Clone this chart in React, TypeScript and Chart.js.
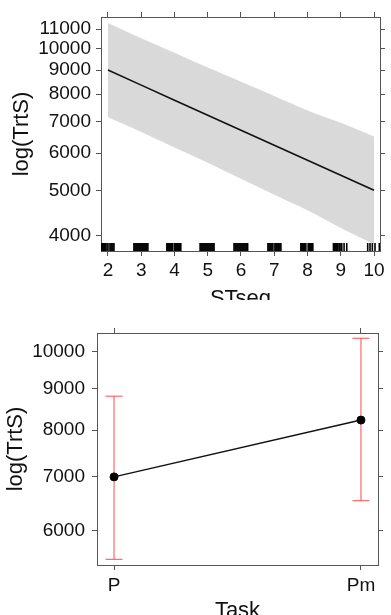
import React, { useEffect, useRef } from 'react';
import { Chart, registerables } from 'chart.js';

Chart.register(...registerables);

// ---------- Top panel: STseg effect ----------
const stsegX = [2, 3, 4, 5, 6, 7, 8, 9, 10];
const fitTrtS = [9000, 8362, 7767, 7218, 6705, 6231, 5789, 5380, 5000];
const upperTrtS = [11330, 10510, 9790, 9110, 8500, 7930, 7390, 6960, 6505];
const lowerTrtS = [7149, 6653, 6162, 5720, 5289, 4896, 4535, 4159, 3843];
const stsegTicks = [2, 3, 4, 5, 6, 7, 8, 9, 10];
const topYTicks = [4000, 5000, 6000, 7000, 8000, 9000, 10000, 11000];
const rugSTseg = [
  1.8, 1.83, 1.86, 1.89, 1.92, 1.97, 2.0, 2.06, 2.09, 2.12, 2.15, 2.18,
  2.78, 2.81, 2.84, 2.87, 2.9, 2.93, 2.96, 2.99, 3.02, 3.05, 3.08, 3.11, 3.14, 3.17, 3.2,
  3.77, 3.8, 3.83, 3.86, 3.89, 3.92, 3.95, 4.01, 4.04, 4.07, 4.1, 4.13, 4.16, 4.19,
  4.77, 4.8, 4.83, 4.86, 4.89, 4.92, 4.95, 4.98, 5.01, 5.04, 5.07, 5.1, 5.13, 5.16, 5.19,
  5.79, 5.82, 5.85, 5.88, 5.91, 5.94, 5.97, 6.0, 6.03, 6.06, 6.09, 6.12, 6.15, 6.18, 6.2,
  6.81, 6.84, 6.87, 6.9, 6.93, 6.96, 7.02, 7.05, 7.08, 7.11, 7.14, 7.17, 7.2,
  7.8, 7.83, 7.86, 7.89, 7.92, 7.95, 8.02, 8.05, 8.08, 8.11, 8.14, 8.16,
  8.78, 8.81, 8.84, 8.88, 8.91, 8.95, 8.98, 9.03, 9.1, 9.18,
  9.81, 9.88, 9.95, 10.03, 10.16,
];
const rugLevel = 3790;

// ---------- Bottom panel: Task effect ----------
const taskCategories = ['P', 'Pm'];
const taskFit = [7000, 8230];
const taskUpper = [8810, 10390];
const taskLower = [5535, 6540];
const bottomYTicks = [6000, 7000, 8000, 9000, 10000];

const FONT = '"Liberation Sans", Arial, Helvetica, sans-serif';
const AXIS = '#555';
const TEXT = '#111';

const setTicks = (vals: number[]) => (s: any) => {
  s.ticks = vals.map((v) => ({ value: v }));
};
const fixW = (w: number) => (s: any) => {
  s.width = w;
};
const fixH = (h: number) => (s: any) => {
  s.height = h;
};

const gridOpts = { drawOnChartArea: false, drawTicks: true, tickLength: 5, color: AXIS, lineWidth: 1 };
const borderOpts = { color: AXIS, width: 1 };
const tickFont = { family: FONT, size: 19 };
const titleFont = { family: FONT, size: 22 };

function topConfig(): any {
  const xBase = { type: 'linear', min: 1.79, max: 10.18, bounds: 'data', afterBuildTicks: setTicks(stsegTicks), grid: gridOpts, border: borderOpts };
  const yBase = { type: 'logarithmic', min: 3717, max: 11665, bounds: 'data', afterBuildTicks: setTicks(topYTicks), grid: gridOpts, border: borderOpts };
  return {
    type: 'line',
    data: {
      datasets: [
        {
          data: stsegX.map((x, i) => ({ x, y: lowerTrtS[i] })),
          borderColor: 'rgba(0,0,0,0)',
          pointRadius: 0,
          fill: false,
          cubicInterpolationMode: 'monotone',
          order: 3,
        },
        {
          data: stsegX.map((x, i) => ({ x, y: upperTrtS[i] })),
          borderColor: 'rgba(0,0,0,0)',
          backgroundColor: '#d9d9d9',
          pointRadius: 0,
          fill: '-1',
          cubicInterpolationMode: 'monotone',
          order: 2,
        },
        {
          data: stsegX.map((x, i) => ({ x, y: fitTrtS[i] })),
          borderColor: '#111',
          borderWidth: 1.6,
          pointRadius: 0,
          fill: false,
          order: 1,
        },
        {
          data: rugSTseg.map((x) => ({ x, y: rugLevel })),
          showLine: false,
          pointStyle: 'line',
          pointRotation: 90,
          pointRadius: 4,
          pointBorderColor: '#000',
          pointBorderWidth: 1.6,
          order: 0,
        },
      ],
    },
    options: {
      animation: false,
      responsive: false,
      devicePixelRatio: 1,
      layout: { padding: 0 },
      plugins: { legend: { display: false }, tooltip: { enabled: false } },
      scales: {
        x: {
          ...xBase,
          position: 'bottom',
          afterFit: fixH(49),
          ticks: { font: tickFont, color: TEXT, padding: 3, maxRotation: 0, autoSkip: false, callback: (v: any) => String(v) },
          title: { display: true, text: 'STseg', font: titleFont, color: TEXT, padding: { top: 0, bottom: -12.4 } },
        },
        x2: {
          ...xBase,
          position: 'top',
          afterFit: fixH(17),
          ticks: { display: false },
        },
        y: {
          ...yBase,
          position: 'left',
          afterFit: fixW(101),
          ticks: { font: tickFont, color: TEXT, padding: 5, autoSkip: false, callback: (v: any) => String(v) },
          title: { display: true, text: 'log(TrtS)', font: titleFont, color: TEXT, padding: { top: 8.5, bottom: 0 } },
        },
        y2: {
          ...yBase,
          position: 'right',
          afterFit: fixW(11),
          ticks: { display: false },
        },
      },
    },
  };
}

function bottomConfig(): any {
  const xBase = { type: 'linear', min: -0.069, max: 1.069, bounds: 'data', afterBuildTicks: setTicks(taskCategories.map((_, i) => i)), grid: gridOpts, border: borderOpts };
  const yBase = { type: 'logarithmic', min: 5446, max: 10547, bounds: 'data', afterBuildTicks: setTicks(bottomYTicks), grid: gridOpts, border: borderOpts };
  const errDatasets = taskCategories.map((_, i) => ({
    data: [
      { x: i, y: taskLower[i] },
      { x: i, y: taskUpper[i] },
    ],
    borderColor: '#ff4a4a',
    borderWidth: 1,
    pointStyle: 'line',
    pointRadius: 8.5,
    pointBorderColor: '#ff4a4a',
    pointBorderWidth: 1,
    fill: false,
    order: 2,
  }));
  return {
    type: 'line',
    data: {
      datasets: [
        ...errDatasets,
        {
          data: taskCategories.map((_, i) => ({ x: i, y: taskFit[i] })),
          borderColor: '#111',
          borderWidth: 1.5,
          pointRadius: 4,
          pointBackgroundColor: '#000',
          pointBorderColor: '#000',
          pointBorderWidth: 1,
          fill: false,
          order: 1,
        },
      ],
    },
    options: {
      animation: false,
      responsive: false,
      devicePixelRatio: 1,
      layout: { padding: 0 },
      plugins: { legend: { display: false }, tooltip: { enabled: false } },
      scales: {
        x: {
          ...xBase,
          position: 'bottom',
          afterFit: fixH(50),
          ticks: { font: tickFont, color: TEXT, padding: 4, maxRotation: 0, autoSkip: false, callback: (v: any) => taskCategories[Number(v)] ?? '' },
          title: { display: true, text: 'Task', font: titleFont, color: TEXT, padding: { top: 0, bottom: -9.1 } },
        },
        x2: {
          ...xBase,
          position: 'top',
          afterFit: fixH(33),
          ticks: { display: false },
        },
        y: {
          ...yBase,
          position: 'left',
          afterFit: fixW(97),
          ticks: { font: tickFont, color: TEXT, padding: 7, autoSkip: false, callback: (v: any) => String(v) },
          title: { display: true, text: 'log(TrtS)', font: titleFont, color: TEXT, padding: { top: 2.3, bottom: 0 } },
        },
        y2: {
          ...yBase,
          position: 'right',
          afterFit: fixW(13),
          ticks: { display: false },
        },
      },
    },
  };
}

export default function App() {
  const topRef = useRef<HTMLCanvasElement | null>(null);
  const bottomRef = useRef<HTMLCanvasElement | null>(null);

  useEffect(() => {
    const charts: Chart[] = [];
    if (topRef.current) charts.push(new Chart(topRef.current, topConfig()));
    if (bottomRef.current) charts.push(new Chart(bottomRef.current, bottomConfig()));
    return () => {
      charts.forEach((c) => c.destroy());
    };
  }, []);

  return (
    <div style={{ position: 'fixed', left: 0, top: 0, width: 391, height: 615, background: '#fff' }}>
      <canvas ref={topRef} width={391} height={300} style={{ display: 'block', width: 391, height: 300 }} />
      <canvas ref={bottomRef} width={391} height={315} style={{ display: 'block', width: 391, height: 315 }} />
    </div>
  );
}
